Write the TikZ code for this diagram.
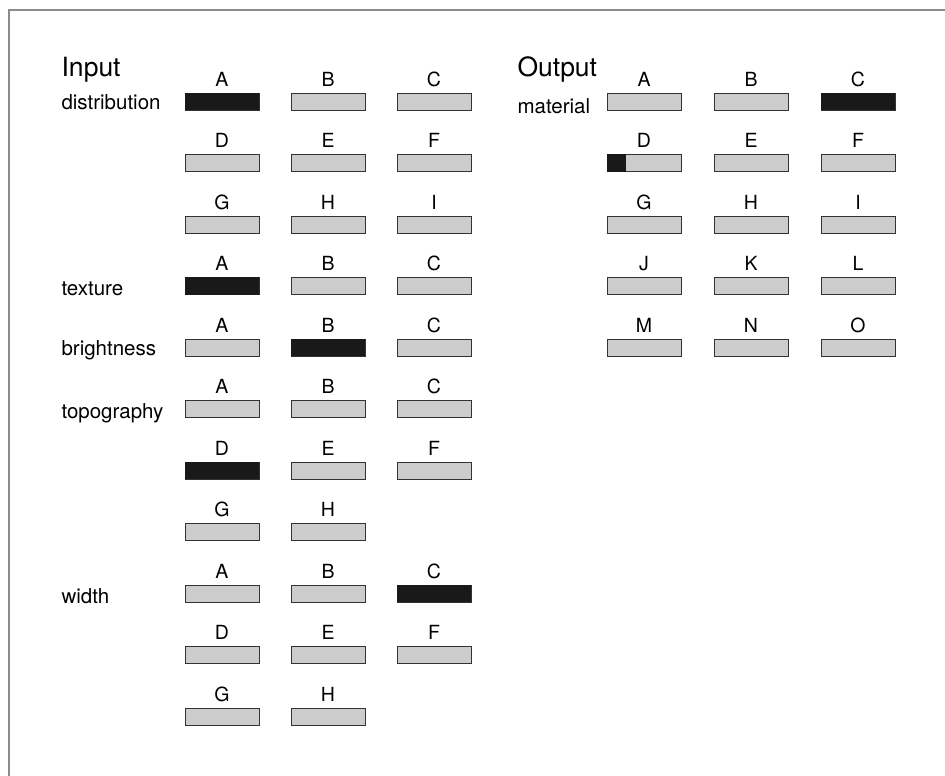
\documentclass[tikz,border=0pt]{standalone}
\usepackage{fontspec}
\setmainfont{TeX Gyre Heros}
\usetikzlibrary{positioning}

\begin{document}
\begin{tikzpicture}[
        x=1pt, y=-1pt,
        frame/.style={draw=black!45, line width=1.2pt},
        heading/.style={anchor=base west, font=\fontsize{26.5}{27}\selectfont},
        attr/.style={anchor=base west, font=\fontsize{20.5}{21}\selectfont},
        gauge/.style={draw=black!80, fill=black!20, line width=0.7pt,
            minimum width=74pt, minimum height=17pt, inner sep=0pt,
            label distance=0pt},
        letter/.style={font=\fontsize{19.5}{20}\selectfont, inner sep=0pt, yshift=6pt},
        full/.style={fill=black!90}
    ]
    \useasboundingbox (0,0) rectangle (945,776);

    % Rahmen (nur oben und links sichtbar)
    \draw[frame] (9,776) -- (9,10) -- (945,10);

    % Ueberschriften
    \node[heading] (input) at (58,77) {Input};
    \node[heading] (output) at (514,77) {Output};

    % Merkmale links
    \node[attr] (distribution) at (58,110) {distribution};
    \node[attr] (texture) at (58,295) {texture};
    \node[attr] (brightness) at (58,355) {brightness};
    \node[attr] (topography) at (58,418) {topography};
    \node[attr] (width) at (58,603) {width};
    \node[attr] (material) at (514,113) {material};

    % Balken der Eingabe, drei pro Zeile
    \foreach \l [count=\i from 0] in {A,B,C,D,E,F,G,H,I}
        \node[gauge, label={[letter]above:\l}] (dist-\l) at ({222+106*mod(\i,3)}, {101.5+61.5*int(\i/3)}) {};
    \foreach \l [count=\i from 0] in {A,B,C}
        \node[gauge, label={[letter]above:\l}] (text-\l) at ({222+106*\i}, {101.5+61.5*3}) {};
    \foreach \l [count=\i from 0] in {A,B,C}
        \node[gauge, label={[letter]above:\l}] (bright-\l) at ({222+106*\i}, {101.5+61.5*4}) {};
    \foreach \l [count=\i from 0] in {A,B,C,D,E,F,G,H}
        \node[gauge, label={[letter]above:\l}] (topo-\l) at ({222+106*mod(\i,3)}, {101.5+61.5*(5+int(\i/3))}) {};
    \foreach \l [count=\i from 0] in {A,B,C,D,E,F,G,H}
        \node[gauge, label={[letter]above:\l}] (wid-\l) at ({222+106*mod(\i,3)}, {101.5+61.5*(8+int(\i/3))}) {};

    % Balken der Ausgabe
    \foreach \l [count=\i from 0] in {A,B,C,D,E,F,G,H,I,J,K,L,M,N,O}
        \node[gauge, label={[letter]above:\l}] (mat-\l) at ({644+107*mod(\i,3)}, {101.5+61.5*int(\i/3)}) {};

    % aktive Werte schwarz
    \foreach \n in {dist-A, text-A, bright-B, topo-D, wid-C, mat-C}
        \fill[black!90] (\n.south west) rectangle (\n.north east);
    \fill[black!90] (mat-D.south west) rectangle ([xshift=19pt]mat-D.north west);

\end{tikzpicture}
\end{document}
